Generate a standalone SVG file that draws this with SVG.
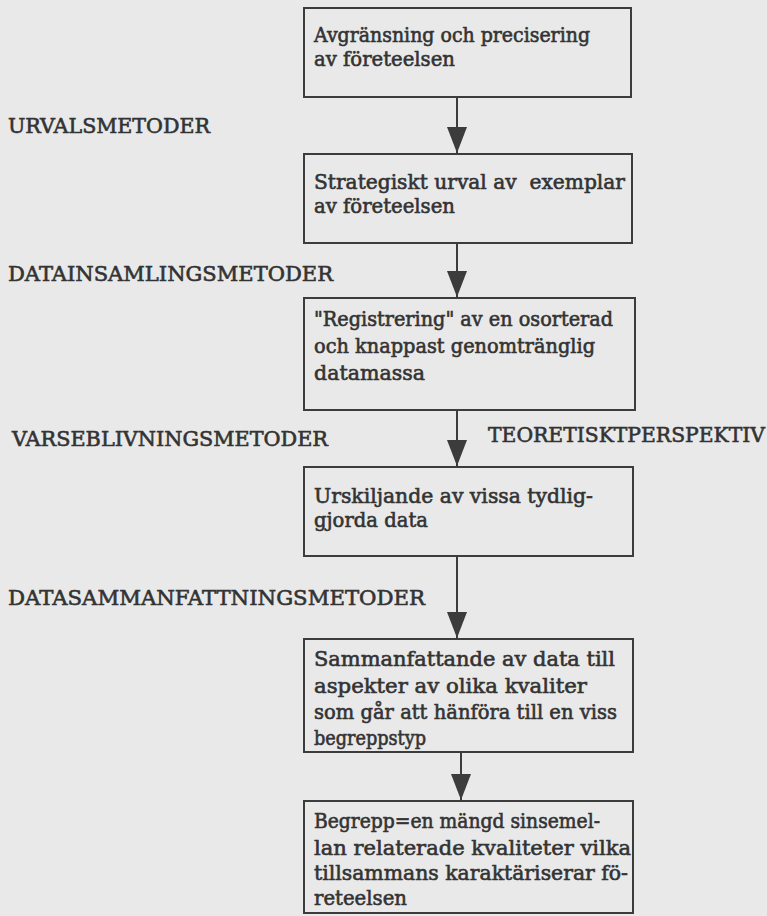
<svg xmlns="http://www.w3.org/2000/svg" width="767" height="916" viewBox="0 0 767 916">
<style>
.box{fill:none;stroke:#3c3c3c;stroke-width:2}
.t,.lbl{font-family:"DejaVu Serif","Liberation Serif",serif;font-size:20px;fill:#333;stroke:#333;stroke-width:0.6}
.con{stroke:#3c3c3c;stroke-width:2;fill:none;marker-end:url(#ah)}
</style>
<defs>
<marker id="ah" viewBox="0 0 26 20" refX="26" refY="10" markerWidth="26" markerHeight="20" markerUnits="userSpaceOnUse" orient="auto">
<path d="M0,0 Q-2,10 0,20 L26,10 Z" fill="#3c3c3c"/>
</marker>
</defs>
<rect x="0" y="0" width="767" height="916" fill="#e9e9e9"/>

<g id="labels">
<text class="lbl" x="8" y="133" textLength="202" lengthAdjust="spacingAndGlyphs">URVALSMETODER</text>
<text class="lbl" x="8" y="281" textLength="325" lengthAdjust="spacingAndGlyphs">DATAINSAMLINGSMETODER</text>
<text class="lbl" x="12" y="446" textLength="316" lengthAdjust="spacingAndGlyphs">VARSEBLIVNINGSMETODER</text>
<text class="lbl" x="488" y="442" textLength="277" lengthAdjust="spacingAndGlyphs">TEORETISKTPERSPEKTIV</text>
<text class="lbl" x="8" y="605" textLength="417" lengthAdjust="spacingAndGlyphs">DATASAMMANFATTNINGSMETODER</text>
</g>

<g id="connectors">
<line class="con" x1="457" y1="97" x2="457" y2="153"/>
<line class="con" x1="457" y1="243" x2="457" y2="297"/>
<line class="con" x1="457" y1="410" x2="457" y2="466"/>
<line class="con" x1="457" y1="556" x2="457" y2="638"/>
<line class="con" x1="461" y1="752" x2="461" y2="800"/>
</g>

<g id="n1">
<rect class="box" x="304" y="8" width="327" height="89"/>
<text class="t" x="314" y="42" textLength="276" lengthAdjust="spacingAndGlyphs">Avgränsning och precisering</text>
<text class="t" x="314" y="66" textLength="141" lengthAdjust="spacingAndGlyphs">av företeelsen</text>
</g>

<g id="n2">
<rect class="box" x="304" y="154" width="328" height="89"/>
<text class="t" x="314" y="189" textLength="311" lengthAdjust="spacingAndGlyphs" xml:space="preserve">Strategiskt urval av  exemplar</text>
<text class="t" x="314" y="213" textLength="141" lengthAdjust="spacingAndGlyphs">av företeelsen</text>
</g>

<g id="n3">
<rect class="box" x="304" y="298" width="331" height="112"/>
<text class="t" x="314" y="326" textLength="299" lengthAdjust="spacingAndGlyphs">"Registrering" av en osorterad</text>
<text class="t" x="314" y="353" textLength="281" lengthAdjust="spacingAndGlyphs">och knappast genomtränglig</text>
<text class="t" x="314" y="380" textLength="111" lengthAdjust="spacingAndGlyphs">datamassa</text>
</g>

<g id="n4">
<rect class="box" x="304" y="467" width="329" height="89"/>
<text class="t" x="314" y="503" textLength="279" lengthAdjust="spacingAndGlyphs">Urskiljande av vissa tydlig-</text>
<text class="t" x="314" y="527" textLength="114" lengthAdjust="spacingAndGlyphs">gjorda data</text>
</g>

<g id="n5">
<rect class="box" x="304" y="639" width="329" height="113"/>
<text class="t" x="314" y="666" textLength="301" lengthAdjust="spacingAndGlyphs">Sammanfattande av data till</text>
<text class="t" x="314" y="693" textLength="273" lengthAdjust="spacingAndGlyphs">aspekter av olika kvaliter</text>
<text class="t" x="314" y="719" textLength="303" lengthAdjust="spacingAndGlyphs">som går att hänföra till en viss</text>
<text class="t" x="314" y="745" textLength="112" lengthAdjust="spacingAndGlyphs">begreppstyp</text>
</g>

<g id="n6">
<rect class="box" x="304" y="801" width="329" height="112"/>
<text class="t" x="314" y="828" textLength="286" lengthAdjust="spacingAndGlyphs">Begrepp=en mängd sinsemel-</text>
<text class="t" x="314" y="855" textLength="317" lengthAdjust="spacingAndGlyphs">lan relaterade kvaliteter vilka</text>
<text class="t" x="314" y="880" textLength="314" lengthAdjust="spacingAndGlyphs">tillsammans karaktäriserar fö-</text>
<text class="t" x="314" y="905" textLength="93" lengthAdjust="spacingAndGlyphs">reteelsen</text>
</g>
</svg>
